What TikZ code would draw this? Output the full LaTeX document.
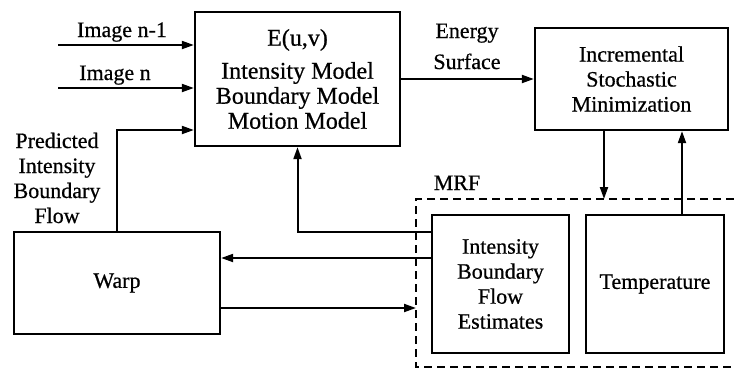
\documentclass[tikz,border=0pt]{standalone}
\usepackage{fontspec}
\setmainfont{Liberation Serif}[FakeBold=0.6]
\usetikzlibrary{arrows.meta,calc}
\begin{document}
\begin{tikzpicture}[x=1pt,y=-1pt,
  box/.style={draw,line width=2.3pt,rectangle,inner sep=0pt,align=center,
    font=\fontsize{22}{25}\selectfont},
  conn/.style={line width=2pt,-{Triangle[length=12pt,width=8pt]}},
  lbl/.style={anchor=base,inner sep=0pt,font=\fontsize{22}{25}\selectfont},
  mrf/.style={line width=2.3pt,dash pattern=on 8pt off 5pt}]
\useasboundingbox (0,0) rectangle (734,370);
% boxes
\node[box,minimum width=205pt,minimum height=134pt,font=\fontsize{24}{25}\selectfont] (E) at (297.5,79)
  {E(u,v)\\[8pt]Intensity Model\\Boundary Model\\Motion Model};
\node[box,minimum width=193pt,minimum height=102pt] (Inc) at (631.5,79)
  {Incremental\\Stochastic\\Minimization};
\node[box,minimum width=206pt,minimum height=102pt] (Warp) at (117,283) {Warp};
\node[box,minimum width=137pt,minimum height=138pt] (Est) at (500.5,284)
  {Intensity\\Boundary\\Flow\\Estimates};
\node[box,minimum width=138pt,minimum height=138pt] (Temp) at (655,284) {Temperature};
% MRF dashed region (open to the right edge)
\coordinate (mtr) at (734,199);
\coordinate (mtl) at (416,199);
\coordinate (mbl) at (416,367);
\coordinate (mbr) at (734,367);
\draw[mrf] (mtr) -- (mtl) -- (mbl) -- (mbr);
% labels
\node[lbl] (l1) at (122,37) {Image n-1};
\node[lbl] (l2) at (115,80) {Image n};
\node[lbl] (l3) at (57,148) {Predicted};
\node[lbl] (l4) at (57,173) {Intensity};
\node[lbl] (l5) at (57,198) {Boundary};
\node[lbl] (l6) at (57,223) {Flow};
\node[lbl] (l7) at (467,38) {Energy};
\node[lbl] (l8) at (467,69) {Surface};
\node[lbl] (l9) at (457,190) {MRF};
% connectors
\coordinate (s1) at (58,45);
\coordinate (s2) at (58,88);
\coordinate (py) at (0,130);
\draw[conn] (s1) -- (s1 -| E.west);
\draw[conn] (s2) -- (s2 -| E.west);
\draw[conn] (Warp.north) |- (E.west |- py);
\draw[conn] (E.east) -- (Inc.west);
\coordinate (dx) at (604,0);
\coordinate (ux) at (682,0);
\draw[conn] (Inc.south -| dx) -- (dx |- mtl);
\draw[conn] (Temp.north -| ux) -- (Inc.south -| ux);
\coordinate (ey) at (0,232);
\draw[conn] (Est.west |- ey) -| (E.south);
\coordinate (wy) at (0,258);
\draw[conn] (Est.west |- wy) -- (Warp.east |- wy);
\coordinate (wy2) at (0,308);
\draw[conn] (Warp.east |- wy2) -- (mtl |- wy2);
\end{tikzpicture}
\end{document}
